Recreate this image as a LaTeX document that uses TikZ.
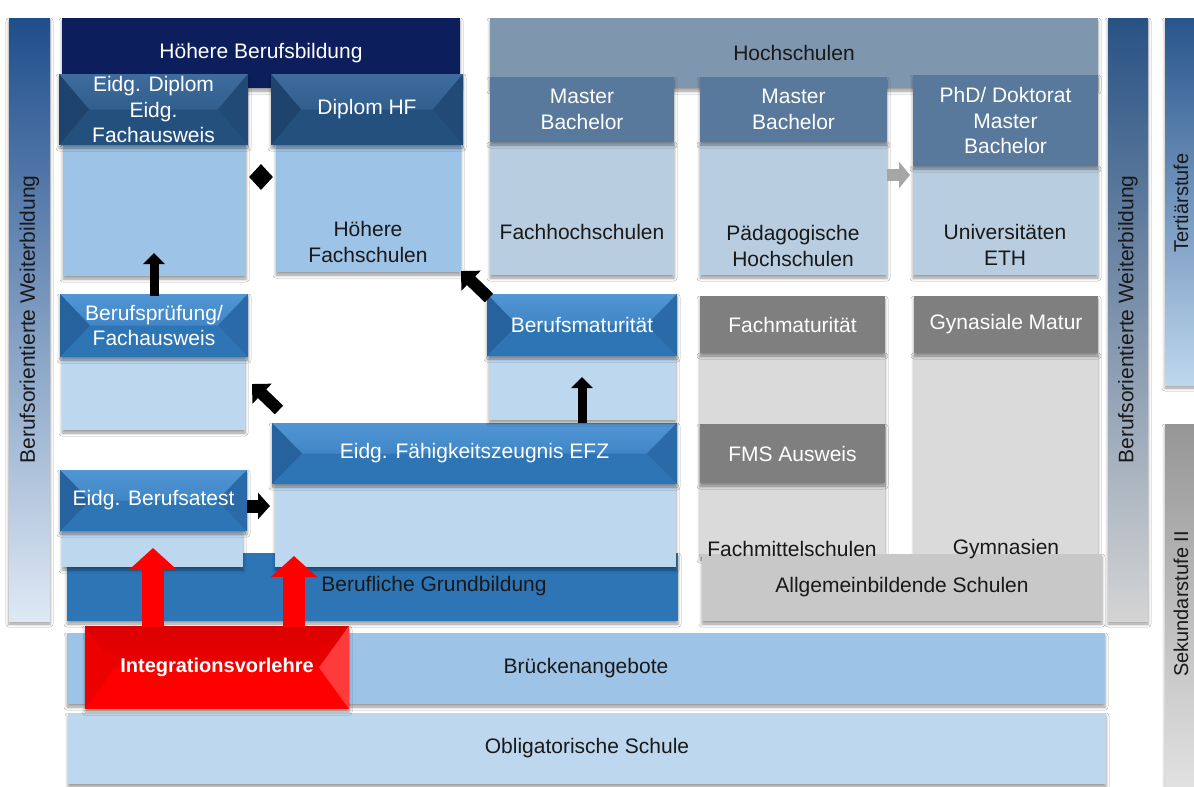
\documentclass[tikz,border=0pt]{standalone}
\usepackage{fontspec}
\setmainfont{Liberation Sans}
\usetikzlibrary{arrows.meta,shadows.blur,shapes.geometric}
\definecolor{navy}{RGB}{12,30,92}
\definecolor{hfbase}{RGB}{36,80,126}
\definecolor{hftop}{RGB}{62,108,156}
\definecolor{hfleft}{RGB}{30,68,110}
\definecolor{hfright}{RGB}{33,74,118}
\definecolor{bbase}{RGB}{46,117,182}
\definecolor{btop}{RGB}{82,150,212}
\definecolor{bleft}{RGB}{38,98,158}
\definecolor{bright}{RGB}{42,106,168}
\definecolor{lblue}{RGB}{157,195,230}
\definecolor{llblue}{RGB}{189,215,238}
\definecolor{hsbar}{RGB}{127,150,175}
\definecolor{hshead}{RGB}{88,121,155}
\definecolor{hslow}{RGB}{185,205,225}
\definecolor{ghead}{RGB}{127,127,127}
\definecolor{glow}{RGB}{218,218,218}
\definecolor{gall}{RGB}{200,200,200}
\definecolor{txtc}{RGB}{25,25,25}
\definecolor{redbase}{RGB}{255,0,0}
\definecolor{redtop}{RGB}{218,0,0}
\definecolor{redleft}{RGB}{236,0,0}
\definecolor{redright}{RGB}{255,58,58}
\definecolor{garrow}{RGB}{166,166,166}

\newcommand\bx[7]{\node[#6,inner sep=0pt,outer sep=0pt,minimum width={#4-#2},minimum height={#5-#3}] (#1) at ({(#2+#4)/2},{(#3+#5)/2}) {#7};}

\tikzset{
  bevel/.style n args={4}{fill=#1, path picture={
    \shade[top color=#2,bottom color=#1] (path picture bounding box.north west) -- (path picture bounding box.north east) -- ([xshift=-30pt]path picture bounding box.east) -- ([xshift=30pt]path picture bounding box.west) -- cycle;
    \fill[#3] (path picture bounding box.north west) -- ([xshift=30pt]path picture bounding box.west) -- (path picture bounding box.south west) -- cycle;
    \fill[#4] (path picture bounding box.north east) -- ([xshift=-30pt]path picture bounding box.east) -- (path picture bounding box.south east) -- cycle;
  }},
  shd/.style={blur shadow={shadow xshift=0pt,shadow yshift=-3pt,shadow blur radius=3pt,shadow opacity=40}},
  wtxt/.style={text=white,align=center},
  dtxt/.style={text=txtc,align=center,inner sep=0pt},
  blkarrow/.style={line width=9pt,-{Triangle[width=21pt,length=11pt]},black},
  fatarrow/.style={line width=12pt,-{Triangle[width=27pt,length=14pt]},black},
  redarrow/.style={line width=22pt,-{Triangle[width=45pt,length=21pt]},red},
}

\begin{document}
\begin{tikzpicture}[x=1pt,y=-1pt,font=\fontsize{21}{25.5}\selectfont]
\useasboundingbox (0,0) rectangle (1194,787);
\fill[white] (0,0) rectangle (1194,787);

\begin{scope}
\clip (0,0) rectangle (1194,787);
% side bars
\bx{lbar}{9}{18}{50}{621}{shd,top color={rgb,255:red,31;green,78;blue,140},middle color={rgb,255:red,125;green,168;blue,214},bottom color={rgb,255:red,222;green,233;blue,245}}{}
\node[rotate=90,text=txtc] (lbartxt) at (lbar.center) {Berufsorientierte Weiterbildung};
\bx{rbar}{1108}{18}{1148}{621}{shd,top color={rgb,255:red,40;green,82;blue,132},middle color={rgb,255:red,182;green,194;blue,206},bottom color={rgb,255:red,212;green,212;blue,212}}{}
\node[rotate=90,text=txtc] (rbartxt) at (rbar.center) {Berufsorientierte Weiterbildung};
\bx{tbar}{1165}{18}{1215}{385}{shd,top color={rgb,255:red,40;green,85;blue,140},bottom color={rgb,255:red,190;green,215;blue,238}}{}
\node[rotate=90,text=txtc,font=\fontsize{20}{24}\selectfont] (tbartxt) at (1181,203) {Tertiärstufe};
\bx{sbar}{1165}{424}{1215}{800}{shd,top color={rgb,255:red,150;green,150;blue,150},bottom color={rgb,255:red,228;green,228;blue,228}}{}
\node[rotate=90,text=txtc,font=\fontsize{20}{24}\selectfont] (sbartxt) at (1181,604) {Sekundarstufe II};
\end{scope}

% top bars
\bx{hbb}{62}{18}{460}{88}{shd,fill=navy,wtxt}{Höhere Berufsbildung}
\bx{hs}{490}{18}{1098}{88}{shd,fill=hsbar,text=txtc}{Hochschulen}

% bottom bars
\bx{bg}{67}{553}{678}{621}{shd,fill=bbase}{}
\node[dtxt] (tbg) at (434,586) {Berufliche Grundbildung};
\bx{bru}{67}{633}{1105}{704}{shd,fill=lblue,text=txtc}{Brückenangebote}
\bx{obl}{68}{713}{1106}{784}{shd,fill=llblue,text=txtc}{Obligatorische Schule}

% Höhere Berufsbildung column
\bx{edipL}{63}{145}{246}{276}{shd,fill=lblue}{}
\bx{hfL}{276}{145}{461}{272}{shd,fill=lblue}{}
\bx{edip}{59}{74}{248}{145}{shd,bevel={hfbase}{hftop}{hfleft}{hfright},wtxt}{Eidg. Diplom\\Eidg.\\Fachausweis}
\bx{hf}{271}{74}{463}{145}{shd,bevel={hfbase}{hftop}{hfleft}{hfright},wtxt}{Diplom HF}
\node[dtxt] (thf) at (368,242) {Höhere\\Fachschulen};
\node[diamond,fill=black,minimum width=24pt,minimum height=26pt,inner sep=0pt] (dia) at (261,177) {};

% Berufsprüfung
\bx{bpL}{62}{357}{245}{430}{shd,fill=llblue}{}
\bx{bp}{60}{294}{248}{357}{shd,bevel={bbase}{btop}{bleft}{bright},wtxt}{Berufsprüfung/\\Fachausweis}

% Berufsatest
\bx{baL}{62}{531}{243}{567}{shd,fill=llblue}{}
\bx{ba}{60}{470}{247}{531}{shd,bevel={bbase}{btop}{bleft}{bright},wtxt}{Eidg. Berufsatest}

% EFZ
\bx{efzL}{275}{484}{676}{567}{shd,fill=llblue}{}
\bx{efz}{272}{423}{677}{484}{shd,bevel={bbase}{btop}{bleft}{bright},wtxt}{Eidg. Fähigkeitszeugnis EFZ}

% Berufsmaturität
\bx{bmL}{489}{356}{676}{420}{shd,fill=llblue}{}
\bx{bm}{487}{294}{677}{356}{shd,bevel={bbase}{btop}{bleft}{bright},wtxt}{Berufsmaturität}

% Hochschulen columns
\bx{fhL}{490}{142}{674}{275}{shd,fill=hslow}{}
\bx{fh}{490}{77}{674}{142}{shd,fill=hshead,wtxt}{Master\\Bachelor}
\node[dtxt] (tfh) at (582,232) {Fachhochschulen};
\bx{phL}{700}{142}{887}{275}{shd,fill=hslow}{}
\bx{ph}{700}{77}{887}{142}{shd,fill=hshead,wtxt}{Master\\Bachelor}
\node[dtxt] (tph) at (793,246) {Pädagogische\\Hochschulen};
\bx{uniL}{913}{166}{1098}{275}{shd,fill=hslow}{}
\bx{uni}{913}{75}{1098}{166}{shd,fill=hshead,wtxt}{PhD/ Doktorat\\Master\\Bachelor}
\node[dtxt] (tuni) at (1005,245) {Universitäten\\ETH};

% Allgemeinbildende
\bx{fmL}{700}{353}{885}{557}{shd,fill=glow}{}
\bx{gyL}{914}{353}{1098}{557}{shd,fill=glow}{}
\bx{fm}{700}{296}{885}{353}{shd,fill=ghead,wtxt}{Fachmaturität}
\bx{gy}{914}{296}{1098}{353}{shd,fill=ghead,wtxt}{Gynasiale Matur}
\bx{fms}{700}{424}{885}{483}{shd,fill=ghead,wtxt}{FMS Ausweis}
\bx{ab}{702}{554}{1102}{621}{shd,fill=gall,text=txtc}{Allgemeinbildende Schulen}
\node[dtxt] (tfms) at (792,549) {Fachmittelschulen};
\node[dtxt] (tgy) at (1006,549) {Gymnasien};

% Integrationsvorlehre
\bx{iv}{85}{626}{349}{709}{shd,bevel={redbase}{redtop}{redleft}{redright},wtxt,font=\fontsize{20}{25}\selectfont\bfseries}{Integrationsvorlehre}

% arrows
\coordinate (a1s) at (154,296); \coordinate (a1e) at (154,253);
\draw[blkarrow] (a1s) -- (a1e);
\coordinate (a5s) at (582,423); \coordinate (a5e) at (582,377);
\draw[blkarrow] (a5s) -- (a5e);
\coordinate (a2s) at (279,410); \coordinate (a2e) at (252,384);
\draw[fatarrow] (a2s) -- (a2e);
\coordinate (a3s) at (489,298); \coordinate (a3e) at (461,271);
\draw[fatarrow] (a3s) -- (a3e);
\coordinate (a4s) at (247,506); \coordinate (a4e) at (270,506);
\draw[line width=13pt,-{Triangle[width=26pt,length=12pt]},black] (a4s) -- (a4e);
\coordinate (a6s) at (887,175); \coordinate (a6e) at (910,175);
\draw[line width=12pt,-{Triangle[width=26pt,length=11pt]},garrow] (a6s) -- (a6e);
\coordinate (r1s) at (153,627); \coordinate (r1e) at (153,548);
\draw[redarrow] (r1s) -- (r1e);
\coordinate (r2s) at (294,627); \coordinate (r2e) at (294,556);
\draw[redarrow] (r2s) -- (r2e);
\end{tikzpicture}
\end{document}
